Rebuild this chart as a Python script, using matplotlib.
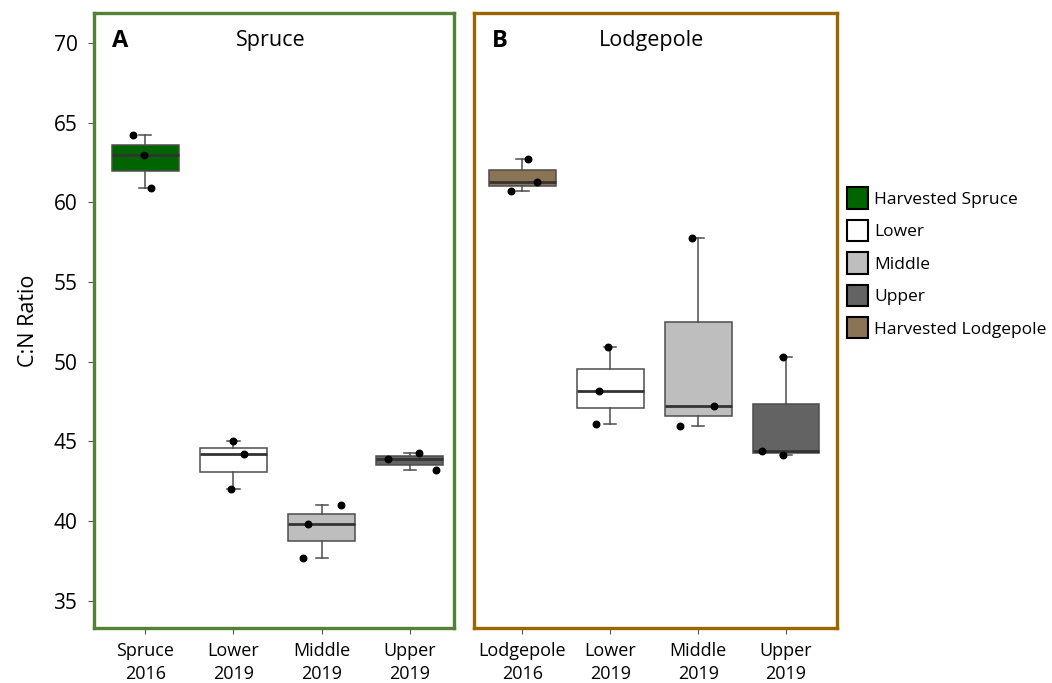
import numpy as np
import matplotlib
matplotlib.use("Agg")
import matplotlib.pyplot as plt
from matplotlib.patches import Patch

plt.rcParams['font.family'] = ['Open Sans', 'DejaVu Sans']

# C:N ratio, three samples per group
spruce_labels = ["Spruce\n2016", "Lower\n2019", "Middle\n2019", "Upper\n2019"]
spruce_vals = [
    [64.2, 63.0, 60.9],
    [45.0, 44.2, 42.0],
    [41.0, 39.85, 37.7],
    [44.3, 43.9, 43.2],
]
lodge_labels = ["Lodgepole\n2016", "Lower\n2019", "Middle\n2019", "Upper\n2019"]
lodge_vals = [
    [62.75, 61.3, 60.7],
    [50.95, 48.15, 46.1],
    [57.75, 47.2, 46.0],
    [50.3, 44.4, 44.15],
]
# horizontal jitter of the points
spruce_jit = [[-0.14, -0.01, 0.07], [0.0, 0.125, -0.03],
              [0.22, -0.155, -0.21], [0.105, -0.245, 0.29]]
lodge_jit = [[0.06, 0.165, -0.13], [-0.03, -0.13, -0.165],
             [-0.075, 0.18, -0.21], [-0.035, -0.27, -0.03]]

legend_names = ["Harvested Spruce", "Lower", "Middle", "Upper", "Harvested Lodgepole"]
c_spruce = "#006400"
c_lower = "#FFFFFF"
c_middle = "#BEBEBE"
c_upper = "#636363"
c_lodge = "#8B7355"

fig = plt.figure(figsize=(10.52, 6.83), dpi=100)
axA = fig.add_axes([0.0894, 0.0805, 0.3422, 0.9005])
axB = fig.add_axes([0.4506, 0.0805, 0.3451, 0.9005], sharey=axA)


def draw(ax, vals, jit, colors, labels, frame, letter, title, xlim):
    pos = np.arange(len(vals))
    bp = ax.boxplot(vals, positions=pos, widths=0.76, patch_artist=True,
                    whis=(0, 100), showfliers=False,
                    medianprops=dict(color="#333333", lw=2),
                    whiskerprops=dict(color="#4d4d4d", lw=1.1),
                    capprops=dict(color="#4d4d4d", lw=1.1),
                    boxprops=dict(edgecolor="#4d4d4d", lw=1.1))
    for caps in bp["caps"]:
        x0, x1 = caps.get_xdata()
        m = (x0 + x1) / 2
        caps.set_xdata([m - 0.07, m + 0.07])
    for b, c in zip(bp["boxes"], colors):
        b.set_facecolor(c)
    for i, (v, j) in enumerate(zip(vals, jit)):
        ax.scatter(i + np.array(j), v, s=22, color="black", zorder=5)
    ax.set_xlim(*xlim)
    ax.set_xticks(pos)
    ax.set_xticklabels(labels, fontsize=13, linespacing=1.35)
    for s in ax.spines.values():
        s.set_color(frame)
        s.set_linewidth(2.4)
    ax.tick_params(axis="x", length=4, color="#555555", pad=6)
    ax.text(0.05, 0.955, letter, transform=ax.transAxes, fontsize=17,
            fontweight="bold", va="center")
    ax.text(0.49, 0.955, title, transform=ax.transAxes, fontsize=15.5,
            ha="center", va="center")


draw(axA, spruce_vals, spruce_jit, [c_spruce, c_lower, c_middle, c_upper],
     spruce_labels, "#538135", "A", "Spruce", (-0.58, 3.5))
draw(axB, lodge_vals, lodge_jit, [c_lodge, c_lower, c_middle, c_upper],
     lodge_labels, "#996600", "B", "Lodgepole", (-0.55, 3.58))

axA.set_ylim(33.3, 71.88)
axA.set_yticks([35, 40, 45, 50, 55, 60, 65, 70])
axA.tick_params(axis="y", labelsize=15, length=4, color="#555555", pad=8)
axA.set_ylabel("C:N Ratio", fontsize=15.5, labelpad=10)
axB.tick_params(axis="y", left=False, labelleft=False)

handles = [Patch(facecolor=c, edgecolor="black", lw=1.5)
           for c in [c_spruce, c_lower, c_middle, c_upper, c_lodge]]
fig.legend(handles, legend_names, loc="center left",
           bbox_to_anchor=(0.79, 0.615), frameon=False, fontsize=12.5,
           handlelength=1.2, handleheight=1.5, handletextpad=0.4,
           labelspacing=0.65)

fig.savefig("out.png", dpi=100)
